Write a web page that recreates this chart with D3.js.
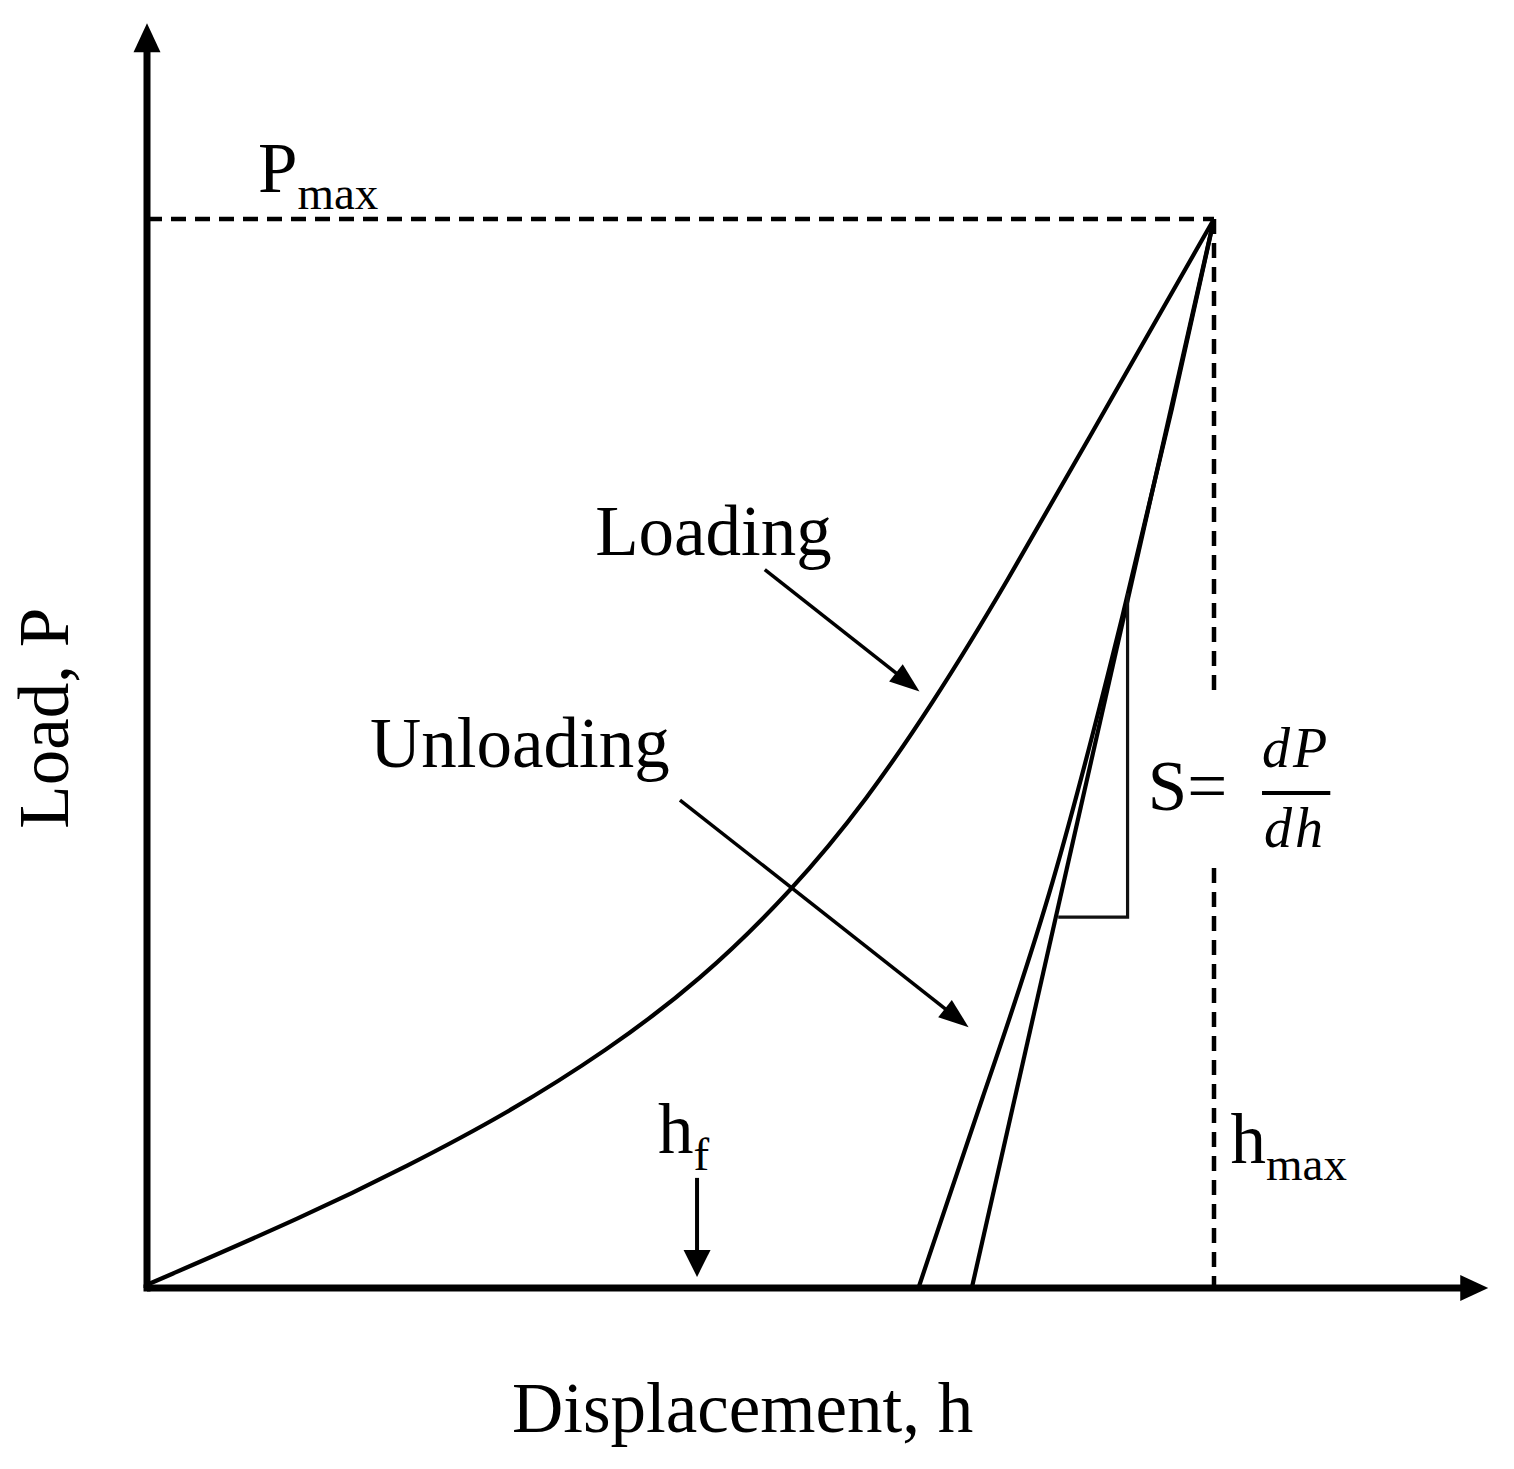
<!DOCTYPE html>
<html>
<head>
<meta charset="utf-8">
<script src="https://cdn.jsdelivr.net/npm/d3@7"></script>
<style>
  html, body { margin: 0; padding: 0; background: #fff; }
  svg { display: block; }
  text { font-family: "Liberation Serif", "Times New Roman", "DejaVu Serif", serif; fill: #000; }
</style>
</head>
<body>
<div id="chart"></div>
<script>
// ---- Data (normalised: h / h_max, P / P_max) ----
const loadingCurve = [
  [0.000, 0.003], [0.150, 0.068], [0.244, 0.114], [0.337, 0.163],
  [0.431, 0.222], [0.518, 0.287], [0.605, 0.372], [0.675, 0.457],
  [0.737, 0.548], [0.799, 0.648], [0.905, 0.834], [1.000, 1.000]
];
const unloadingCurve = [
  [1.000, 1.000], [0.961, 0.822], [0.919, 0.646], [0.848, 0.365],
  [0.782, 0.176], [0.723, 0.000]
];
const tangentLine = [[1.000, 1.000], [0.773, 0.000]];
const stiffnessTriangle = [[0.854, 0.347], [0.919, 0.347], [0.919, 0.650]];
const pmaxLine = [[0.000, 1.000], [1.000, 1.000]];
const hmaxLineUpper = [[1.000, 1.000], [1.000, 0.552]];
const hmaxLineLower = [[1.000, 0.393], [1.000, 0.000]];
const axisExtent = { x: 1.257, y: 1.183 };

// annotation arrows: [from, to]
const loadingArrow = [[0.579, 0.672], [0.724, 0.558]];
const unloadingArrow = [[0.4995, 0.4565], [0.770, 0.244]];
const hfArrow = [[0.5155, 0.103], [0.5155, 0.0103]];

// labels
const labelLoading = { text: "Loading", x: 0.420, y: 0.686 };
const labelUnloading = { text: "Unloading", x: 0.209, y: 0.487 };
const labelPmax = { main: "P", sub: "max", x: 0.104, y: 1.025 };
const labelHf = { main: "h", sub: "f", x: 0.479, y: 0.126 };
const labelHmax = { main: "h", sub: "max", x: 1.0155, y: 0.117 };
const labelS = { text: "S=", x: 0.938, y: 0.447 };
const fracNum = { text: "dP", x: 1.077, y: 0.487 };
const fracDen = { text: "dh", x: 1.076, y: 0.4125 };
const fracBar = [[1.045, 0.463], [1.109, 0.463]];
const xTitle = "Displacement, h";
const yTitle = "Load, P";

// ---- Drawing ----
const W = 1514, H = 1469;
const x = d3.scaleLinear().domain([0, 1]).range([147, 1214]);
const y = d3.scaleLinear().domain([0, 1]).range([1288, 219]);

const svg = d3.select("#chart").append("svg")
  .attr("width", W).attr("height", H)
  .style("background", "#fff");

const line = d3.line().x(d => x(d[0])).y(d => y(d[1]));
const smooth = d3.line().x(d => x(d[0])).y(d => y(d[1])).curve(d3.curveBasis);

function arrowHead(p1, p2, len, halfW) {
  const x1 = x(p1[0]), y1 = y(p1[1]), x2 = x(p2[0]), y2 = y(p2[1]);
  const dx = x2 - x1, dy = y2 - y1, L = Math.hypot(dx, dy);
  const ux = dx / L, uy = dy / L;
  const bx = x2 - ux * len, by = y2 - uy * len;
  return {
    base: [bx, by],
    pts: [[x2, y2], [bx - uy * halfW, by + ux * halfW], [bx + uy * halfW, by - ux * halfW]]
  };
}
function drawArrow(seg, width, len, halfW) {
  const ah = arrowHead(seg[0], seg[1], len, halfW);
  svg.append("line")
    .attr("x1", x(seg[0][0])).attr("y1", y(seg[0][1]))
    .attr("x2", ah.base[0] + (x(seg[1][0]) - ah.base[0]) * 0.2)
    .attr("y2", ah.base[1] + (y(seg[1][1]) - ah.base[1]) * 0.2)
    .attr("stroke", "#000").attr("stroke-width", width);
  svg.append("polygon").attr("points", ah.pts.map(p => p.join(",")).join(" ")).attr("fill", "#000");
}

// dashed reference lines
[pmaxLine, hmaxLineUpper, hmaxLineLower].forEach(seg => {
  svg.append("path").attr("d", line(seg))
    .attr("fill", "none").attr("stroke", "#000")
    .attr("stroke-width", 4.5).attr("stroke-dasharray", "15,9");
});

// curves
svg.append("path").attr("d", smooth(loadingCurve))
  .attr("fill", "none").attr("stroke", "#000").attr("stroke-width", 4.2);
svg.append("path").attr("d", smooth(unloadingCurve))
  .attr("fill", "none").attr("stroke", "#000").attr("stroke-width", 4.2);
svg.append("path").attr("d", line(tangentLine))
  .attr("fill", "none").attr("stroke", "#000").attr("stroke-width", 4.2);
svg.append("path").attr("d", line(stiffnessTriangle))
  .attr("fill", "none").attr("stroke", "#111").attr("stroke-width", 3.2);

// axes
drawArrow([[0, 0], [0, axisExtent.y]], 7, 29, 13.5);
drawArrow([[0, 0], [axisExtent.x, 0]], 7, 28, 13);
svg.append("line").attr("x1", x(0) - 3.5).attr("x2", x(0) + 3.5).attr("y1", y(0)).attr("y2", y(0))
  .attr("stroke", "#000").attr("stroke-width", 7);

// annotation arrows
drawArrow(loadingArrow, 3.5, 30, 11);
drawArrow(unloadingArrow, 3.5, 30, 11);
drawArrow(hfArrow, 4, 27, 13.5);

// labels
const FS = 71;
function plain(l) {
  svg.append("text").attr("x", x(l.x)).attr("y", y(l.y))
    .attr("font-size", FS).text(l.text);
}
plain(labelLoading);
plain(labelUnloading);
plain(labelS);

function withSub(l) {
  const t = svg.append("text").attr("x", x(l.x)).attr("y", y(l.y)).attr("font-size", FS);
  t.append("tspan").text(l.main);
  t.append("tspan").attr("font-size", 47).attr("dy", 17).text(l.sub);
}
withSub(labelPmax);
withSub(labelHf);
withSub(labelHmax);

// fraction dP/dh
[fracNum, fracDen].forEach(f => {
  svg.append("text").attr("x", x(f.x)).attr("y", y(f.y))
    .attr("text-anchor", "middle").attr("font-size", 56)
    .attr("font-style", "italic").attr("letter-spacing", 3).text(f.text);
});
svg.append("path").attr("d", line(fracBar)).attr("stroke", "#000").attr("stroke-width", 4);

// axis titles
svg.append("text")
  .attr("x", (x(0) + x(axisExtent.x)) / 2 - 75)
  .attr("y", y(0) + 144)
  .attr("text-anchor", "middle").attr("font-size", FS).text(xTitle);
svg.append("text")
  .attr("transform", `translate(${x(0) - 79},${y(0.533)}) rotate(-90)`)
  .attr("text-anchor", "middle").attr("font-size", FS).text(yTitle);
</script>
</body>
</html>
